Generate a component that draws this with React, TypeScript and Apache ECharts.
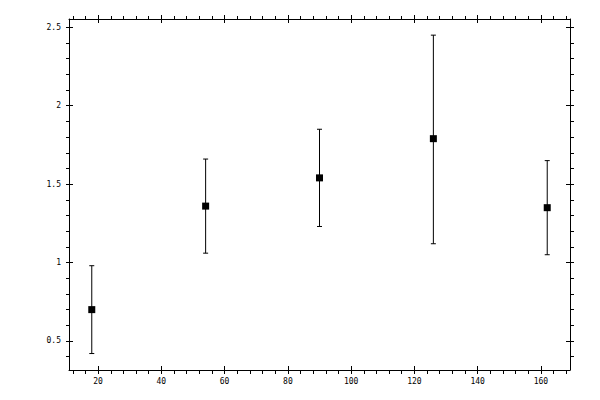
import { useEffect, useRef } from "react";
import * as echarts from "echarts";

// measurements
const xValues = [18, 54, 90, 126, 162];
const yValues = [0.7, 1.36, 1.54, 1.79, 1.35];
const yLower = [0.42, 1.06, 1.23, 1.12, 1.05];
const yUpper = [0.98, 1.66, 1.85, 2.45, 1.65];

// axis ranges and ticks
const xRange = [10.8, 169.2];
const yRange = [0.315, 2.553];
const xMajor = [20, 40, 60, 80, 100, 120, 140, 160];
const xMinor = [
  12, 16, 24, 28, 32, 36, 44, 48, 52, 56, 64, 68, 72, 76, 84, 88, 92, 96, 104,
  108, 112, 116, 124, 128, 132, 136, 144, 148, 152, 156, 164, 168,
];
const yMajor = [0.5, 1, 1.5, 2, 2.5];
const yMinor = [
  0.4, 0.6, 0.7, 0.8, 0.9, 1.1, 1.2, 1.3, 1.4, 1.6, 1.7, 1.8, 1.9, 2.1, 2.2,
  2.3, 2.4,
];

const FONT = "DejaVu Sans Mono";

function makeAxis(
  range: number[],
  position: string,
  opts: {
    line?: boolean;
    labels?: number[];
    ticks: number[];
    inside?: boolean;
    length: number;
    offset?: number;
    margin?: number;
  }
) {
  return {
    type: "value",
    position,
    min: range[0],
    max: range[1],
    offset: opts.offset || 0,
    axisLine: {
      show: !!opts.line,
      onZero: false,
      lineStyle: { color: "#000", width: 1 },
    },
    axisTick: {
      show: true,
      inside: !!opts.inside,
      length: opts.length,
      customValues: opts.ticks,
      lineStyle: { color: "#000", width: 1 },
    },
    axisLabel: opts.labels
      ? {
          show: true,
          customValues: opts.labels,
          color: "#000",
          fontFamily: FONT,
          fontSize: 8,
          margin: opts.margin,
        }
      : { show: false },
    splitLine: { show: false },
  };
}

export default function App() {
  const chartRef = useRef(null);

  useEffect(() => {
    const chart = echarts.init(chartRef.current, null, { renderer: "svg" });

    const errData = xValues.map((x, i) => [x, yLower[i], yUpper[i]]);
    const pointData = xValues.map((x, i) => [x, yValues[i]]);

    chart.setOption({
      animation: false,
      backgroundColor: "#fff",
      grid: { left: 69, right: 30, top: 19, bottom: 30 },
      xAxis: [
        makeAxis(xRange, "bottom", { line: true, labels: xMajor, ticks: xMinor, length: 4, margin: 7 }),
        makeAxis(xRange, "bottom", { ticks: xMajor, inside: true, length: 8, offset: 4 }),
        makeAxis(xRange, "top", { line: true, ticks: xMinor, length: 3 }),
        makeAxis(xRange, "top", { ticks: xMajor, inside: true, length: 8, offset: 4 }),
      ],
      yAxis: [
        makeAxis(yRange, "left", { line: true, labels: yMajor, ticks: yMinor, length: 3, margin: 8 }),
        makeAxis(yRange, "left", { ticks: yMajor, inside: true, length: 7, offset: 3 }),
        makeAxis(yRange, "right", { line: true, ticks: yMinor, length: 4 }),
        makeAxis(yRange, "right", { ticks: yMajor, inside: true, length: 8, offset: 4 }),
      ],
      series: [
        {
          type: "custom",
          xAxisIndex: 0,
          yAxisIndex: 0,
          encode: { x: 0, y: [1, 2] },
          data: errData,
          renderItem: (params: any, api: any) => {
            const x = api.value(0);
            const lo = api.coord([x, api.value(1)]);
            const hi = api.coord([x, api.value(2)]);
            const w = 2.5;
            const style = { stroke: "#000", lineWidth: 1 };
            return {
              type: "group",
              children: [
                { type: "line", shape: { x1: lo[0], y1: lo[1], x2: hi[0], y2: hi[1] }, style },
                { type: "line", shape: { x1: lo[0] - w, y1: lo[1], x2: lo[0] + w, y2: lo[1] }, style },
                { type: "line", shape: { x1: hi[0] - w, y1: hi[1], x2: hi[0] + w, y2: hi[1] }, style },
              ],
            };
          },
          z: 2,
        },
        {
          type: "scatter",
          xAxisIndex: 0,
          yAxisIndex: 0,
          data: pointData,
          symbol: "rect",
          symbolSize: 7,
          itemStyle: { color: "#000", opacity: 1 },
          z: 3,
        },
      ],
    });

    return () => {
      chart.dispose();
    };
  }, []);

  return (
    <div
      ref={chartRef}
      style={{ position: "absolute", left: 0, top: 0, width: "600px", height: "400px" }}
    />
  );
}
